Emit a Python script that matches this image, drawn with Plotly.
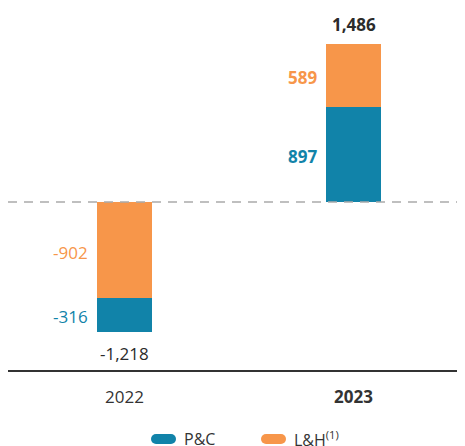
import plotly.graph_objects as go

years = ["2022", "2023"]
pc = [-316, 897]
lh = [-902, 589]
totals = [-1218, 1486]
tick_text = ["2022", "<b>2023</b>"]
bold_year = [False, True]

BLUE = "#1183A9"
ORANGE = "#F7964A"
DARK = "#2b2b2b"
FONT = "Open Sans"

# stacking: for 2022 L&H sits next to zero, for 2023 P&C sits next to zero
pc_base = [lh[i] if pc[i] < 0 else 0 for i in range(2)]
lh_base = [0 if pc[i] < 0 else pc[i] for i in range(2)]

# the page body has an 8px margin, so the figure is drawn at (8, 8)
OFF = 8
W, H = 465 - OFF, 446 - OFF
ML, MR, MT, MB = 0, 0, 2, 76
PW, PH = W - ML - MR, H - MT - MB
def px(x):
    return (x - OFF - ML) / PW
def py(y):
    return (H - MB - (y - OFF)) / PH

bw = 0.24
fig = go.Figure()
fig.add_trace(go.Bar(x=[0, 1], y=pc, base=pc_base, width=bw, marker=dict(color=BLUE, line_width=0),
                     name="P&C", showlegend=False, hoverinfo="skip"))
fig.add_trace(go.Bar(x=[0, 1], y=lh, base=lh_base, width=bw, marker=dict(color=ORANGE, line_width=0),
                     name="L&H", showlegend=False, hoverinfo="skip"))

ann = []
for i in range(2):
    b = bold_year[i]
    for vals, bases, col in ((pc, pc_base, BLUE), (lh, lh_base, ORANGE)):
        mid = bases[i] + vals[i] / 2
        t = f"{vals[i]:,}"
        ann.append(dict(x=i - bw / 2, y=mid, xref="x", yref="y", text=f"<b>{t}</b>" if b else t,
                        showarrow=False, xanchor="right", yanchor="middle", xshift=-7, yshift=-2,
                        font=dict(family=FONT, size=17, color=col)))
    t = f"{totals[i]:,}"
    if totals[i] >= 0:
        ann.append(dict(x=i, y=totals[i], xref="x", yref="y", text=f"<b>{t}</b>" if b else t,
                        showarrow=False, xanchor="center", yanchor="bottom", yshift=6,
                        font=dict(family=FONT, size=17, color=DARK)))
    else:
        ann.append(dict(x=i, y=totals[i], xref="x", yref="y", text=f"<b>{t}</b>" if b else t,
                        showarrow=False, xanchor="center", yanchor="top", yshift=-8,
                        font=dict(family=FONT, size=17, color=DARK)))

shapes = [dict(type="line", xref="paper", yref="y", x0=0, x1=px(459), y0=0, y1=0,
               line=dict(color="#aaaaaa", width=1.5, dash="9px,7px"))]
# legend (custom pills)
legend = [("P&C", BLUE, 151), ("L&H<sup>(1)</sup>", ORANGE, 261)]
for label, col, x0 in legend:
    yc = 439
    r = 5
    shapes.append(dict(type="rect", xref="paper", yref="paper", x0=px(x0 + r), x1=px(x0 + 25 - r),
                       y0=py(yc - r), y1=py(yc + r), fillcolor=col, line_width=0))
    for cx in (x0 + r, x0 + 25 - r):
        shapes.append(dict(type="circle", xref="paper", yref="paper", x0=px(cx - r), x1=px(cx + r),
                           y0=py(yc - r), y1=py(yc + r), fillcolor=col, line_width=0))
    ann.append(dict(x=px(x0 + 31), y=py(yc), xref="paper", yref="paper", text=label, showarrow=False,
                    xanchor="left", yanchor="middle", font=dict(family=FONT, size=16, color="#333333")))

fig.update_layout(
    width=W, height=H, margin=dict(l=ML, r=MR, t=MT, b=MB),
    paper_bgcolor="white", plot_bgcolor="white",
    barmode="overlay", bargap=0,
    annotations=ann, shapes=shapes,
    font=dict(family=FONT),
    xaxis=dict(range=[-0.509, 1.487], tickvals=[0, 1], ticktext=tick_text, showgrid=False,
               zeroline=False, showline=True, linecolor="#333333", linewidth=1.5, ticks="",
               ticklabelstandoff=11, tickfont=dict(family=FONT, size=17, color="#333333"),
               fixedrange=True),
    yaxis=dict(range=[-1577, 1803], visible=False, showgrid=False, zeroline=False, fixedrange=True),
)
fig.write_html("out.html")
